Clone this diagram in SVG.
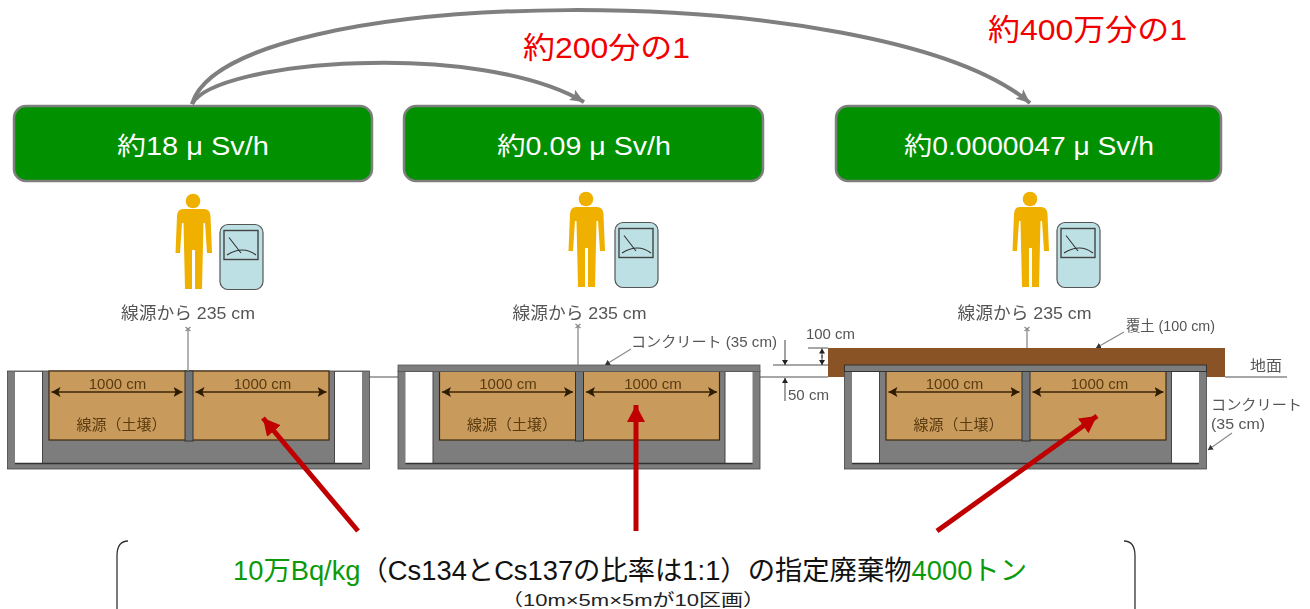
<svg xmlns="http://www.w3.org/2000/svg" xmlns:xlink="http://www.w3.org/1999/xlink" width="1310" height="609" viewBox="0 0 1310 609">
<style>
text{font-family:"Liberation Sans","Noto Sans CJK JP",sans-serif;text-anchor:middle}
.box{fill:#009000;stroke:#7f7f7f;stroke-width:2.5}
.bt{fill:#fff;font-size:25px}
.red{fill:#f00000;font-size:30px}
.g{fill:#555;font-size:17px}
.s{fill:#555;font-size:14.500px}
.d{fill:#5a3a10;font-size:15px}
.thin{stroke:#8a8a8a;stroke-width:1.3;fill:none}
.arc{stroke:#7f7f7f;stroke-width:4;fill:none;marker-end:url(#ga)}
.ra{stroke:#c00000;stroke-width:5;fill:none;marker-end:url(#ra)}
.dim{stroke:#3c2408;stroke-width:1.6;fill:none;marker-start:url(#da);marker-end:url(#da)}
.br{stroke:#333;stroke-width:1.3;fill:none}
.lead{stroke:#8a8a8a;stroke-width:1.2;fill:none;marker-end:url(#la)}
.small{stroke:#444;stroke-width:1;fill:none;marker-end:url(#sa)}
.soft{filter:url(#soft)}
</style>
<defs>
<filter id="soft" x="-5%" y="-5%" width="110%" height="110%"><feGaussianBlur stdDeviation="0.45"/></filter>
<marker id="ga" markerUnits="userSpaceOnUse" markerWidth="16" markerHeight="14" refX="14" refY="7" orient="auto"><path d="M0 1L14 7L0 13L3 7Z" fill="#7f7f7f"/></marker>
<marker id="ra" markerUnits="userSpaceOnUse" markerWidth="20" markerHeight="20" refX="17" refY="9" orient="auto"><path d="M0 0L17 9L0 18Z" fill="#c00000"/></marker>
<marker id="da" markerUnits="userSpaceOnUse" markerWidth="12" markerHeight="10" refX="9" refY="5" orient="auto-start-reverse"><path d="M0 0L9 5L0 10L2 5Z" fill="#2e1a04"/></marker>
<marker id="la" markerUnits="userSpaceOnUse" markerWidth="6" markerHeight="6" refX="5" refY="3" orient="auto"><path d="M0 0L5 3L0 6Z" fill="#333"/></marker>
<marker id="sa" markerUnits="userSpaceOnUse" markerWidth="6" markerHeight="6" refX="5" refY="3" orient="auto"><path d="M0 0L5 3L0 6Z" fill="#222"/></marker>
<g id="person">
<circle cx="193" cy="201" r="7.300" fill="#f0b000"/>
<path d="M183 209H204Q210 209 210.500 216L212 253H207L205 223H203.500L202 289H195V250H192V289H185L183.500 223H182L180 253H175.500L177 216Q177.500 209 183 209Z" fill="#f0b000"/>
</g>
<g id="meter">
<rect x="220" y="224.500" width="43" height="65" rx="8" fill="#bde0e4" stroke="#555" stroke-width="1.200"/>
<rect x="224" y="230.500" width="34" height="29" fill="#bde0e4" stroke="#444" stroke-width="1.400"/>
<path d="M229 237.500L241 253M227 255Q243 245 256 255" fill="none" stroke="#333" stroke-width="1.100"/>
</g>
<g id="pit">
<rect x="0" y="0" width="362" height="98" fill="#7d7d7d" stroke="#444" stroke-width="0.800"/>
<rect x="7.500" y="1" width="27.500" height="91" fill="#fff"/>
<rect x="327" y="1" width="27.500" height="91" fill="#fff"/>
<rect x="41.500" y="0" width="280" height="69" fill="#c89b5c" stroke="#3c2a10" stroke-width="1.200"/>
<rect x="177.500" y="0" width="8" height="70" fill="#70767a" stroke="#333" stroke-width="1"/>
<path d="M7.500 92.500H354.500" stroke="#333" stroke-width="1.300"/>
<path d="M35 0V92M327 0V92" stroke="#444" stroke-width="1"/>
<path class="dim" d="M44 21H175"/>
<path class="dim" d="M188 21H319"/>
<text class="d" x="110" y="18">1000 cm</text>
<text class="d" x="255" y="18">1000 cm</text>
<text class="d" x="114" y="59">線源（土壌）</text>
</g>
</defs>

<g id="ground-lines">
<path class="thin" d="M369 377H400M759 377H828M1225 377H1287"/>
</g>

<g id="pit-1" class="soft"><use xlink:href="#pit" x="7.500" y="371"/></g>
<g id="pit-2" class="soft">
<use xlink:href="#pit" x="398" y="371"/>
<rect x="398" y="365" width="362" height="6.500" fill="#7d7d7d" stroke="#555" stroke-width="0.800"/>
</g>
<g id="pit-3" class="soft">
<rect x="828" y="348" width="397" height="29" fill="#8a5226"/>
<use xlink:href="#pit" x="844.500" y="371"/>
<rect x="844.500" y="365" width="362" height="6.500" fill="#7d7d7d" stroke="#333" stroke-width="1"/>
</g>

<g id="dose-1"><rect class="box" x="14" y="106" width="358" height="75" rx="12"/><text class="bt" x="193" y="155" textLength="152" lengthAdjust="spacingAndGlyphs">約18 μ Sv/h</text></g>
<g id="dose-2"><rect class="box" x="404" y="106" width="359" height="75" rx="12"/><text class="bt" x="584" y="155" textLength="174" lengthAdjust="spacingAndGlyphs">約0.09 μ Sv/h</text></g>
<g id="dose-3"><rect class="box" x="836" y="106" width="385" height="75" rx="12"/><text class="bt" x="1029" y="155" textLength="250" lengthAdjust="spacingAndGlyphs">約0.0000047 μ Sv/h</text></g>

<g id="instrument-1"><use xlink:href="#person"/><use xlink:href="#meter"/></g>
<g id="instrument-2"><use xlink:href="#person" x="393" y="-2"/><use xlink:href="#meter" x="395" y="-2"/></g>
<g id="instrument-3"><use xlink:href="#person" x="837" y="-2"/><use xlink:href="#meter" x="837" y="-2"/></g>

<g id="labels">
<g class="soft">
<text class="g" x="188" y="319" textLength="134" lengthAdjust="spacingAndGlyphs">線源から 235 cm</text>
<text class="g" x="579.500" y="319" textLength="134" lengthAdjust="spacingAndGlyphs">線源から 235 cm</text>
<text class="g" x="1024.500" y="319" textLength="134" lengthAdjust="spacingAndGlyphs">線源から 235 cm</text>
<text class="s" x="704" y="347" textLength="146" lengthAdjust="spacingAndGlyphs">コンクリート (35 cm)</text>
<text class="s" x="830.500" y="339" textLength="49" lengthAdjust="spacingAndGlyphs">100 cm</text>
<text class="s" x="808.500" y="400" textLength="41" lengthAdjust="spacingAndGlyphs">50 cm</text>
<text class="s" x="1170.500" y="331" textLength="89" lengthAdjust="spacingAndGlyphs">覆土 (100 cm)</text>
<text class="s" x="1266" y="371" textLength="32" lengthAdjust="spacingAndGlyphs">地面</text>
<text class="s" x="1256.500" y="410" textLength="91" lengthAdjust="spacingAndGlyphs">コンクリート</text>
<text class="s" x="1238" y="429" textLength="54" lengthAdjust="spacingAndGlyphs">(35 cm)</text>
</g>
<text class="red" x="606.500" y="58" textLength="167" lengthAdjust="spacingAndGlyphs">約200分の1</text>
<text class="red" x="1087.500" y="40" textLength="199" lengthAdjust="spacingAndGlyphs">約400万分の1</text>
</g>

<g id="connectors">
<path class="arc" d="M192 104C215 60 480 40 584 102"/>
<path class="arc" d="M192 104C228 -18 880 -24 1030 103"/>
<path class="thin" d="M188 329V371M185.500 327L190.500 331M190.500 327L185.500 331"/>
<path class="thin" d="M578 326V365M575.500 324L580.500 328M580.500 324L575.500 328"/>
<path class="thin" d="M1027 329V348M1024.500 327L1029.500 331M1029.500 327L1024.500 331"/>
<path class="lead" d="M631 349L605 365"/>
<path class="lead" d="M1124 332L1096 348"/>
<path class="lead" d="M1232 433L1208 450"/>
<path class="thin" d="M773 365H828M808 348H828"/>
<path class="small" d="M785 340V365"/>
<path class="small" d="M785 401V378"/>
<path class="small" d="M822 358V348.500"/>
<path class="small" d="M822 355V365"/>
<path class="ra" d="M358 531L263 418"/>
<path class="ra" d="M636 531V405"/>
<path class="ra" d="M937 531L1097 416"/>
</g>

<g id="waste-note">
<path class="br" d="M128 541Q117 541 117 556V609M1124 541Q1135 541 1135 556V609"/>
<text x="630" y="580" style="font-size:27px" fill="#111" textLength="794" lengthAdjust="spacingAndGlyphs"><tspan fill="#0a9a0a">10万Bq/kg</tspan>（Cs134とCs137の比率は1:1）の指定廃棄物<tspan fill="#0a9a0a">4000トン</tspan></text>
<text x="633" y="606" style="font-size:17px" fill="#222" textLength="264" lengthAdjust="spacingAndGlyphs">（10m×5m×5mが10区画）</text>
</g>
</svg>
